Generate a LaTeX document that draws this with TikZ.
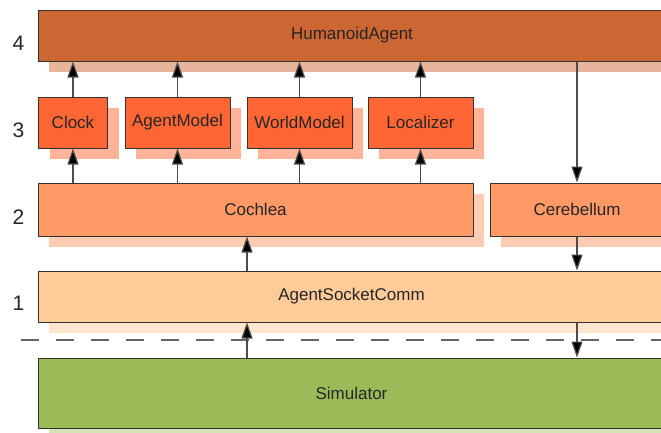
\documentclass[tikz,border=0pt]{standalone}
\usepackage{fontspec}
\setmainfont{Liberation Sans}
\usetikzlibrary{arrows.meta,shadows}

\definecolor{agentfill}{HTML}{CC6633}
\definecolor{agentshade}{HTML}{E8B49C}
\definecolor{partfill}{HTML}{FF6633}
\definecolor{partshade}{HTML}{FFB399}
\definecolor{senfill}{HTML}{FF9966}
\definecolor{senshade}{HTML}{FFCCB3}
\definecolor{commfill}{HTML}{FFCC99}
\definecolor{commshade}{HTML}{FFE6CC}
\definecolor{simfill}{HTML}{9BBB59}
\definecolor{simshade}{HTML}{D3E2B7}
\definecolor{edge}{HTML}{333333}

\begin{document}
\begin{tikzpicture}[x=1pt,y=-1pt,
    box/.style={draw=edge, line width=1pt, inner sep=0pt, minimum height=51pt,
        text=black!85, font=\fontsize{17}{20}\selectfont},
    shade/.style={general shadow={fill=#1, shadow xshift=11pt, shadow yshift=-11pt}},
    link/.style={draw=black!70, line width=1.2pt, -{Triangle[length=16pt,width=11pt,fill=black]}},
    cut/.style={draw=black!60, line width=2pt, dash pattern=on 18pt off 17pt},
    level/.style={font=\fontsize{21}{24}\selectfont, text=black!85}]
\useasboundingbox (0,0) rectangle (661,432);
\clip (0,0) rectangle (661,432);

\foreach \l/\y in {4/43, 3/130, 2/217, 1/303} \node (lv\l) at (18.5,\y) [level] {\l};

\node (agent) at (352,35.5) [box, minimum width=628pt, fill=agentfill, shade=agentshade] {HumanoidAgent};
\node (cochlea) at (255.5,209.5) [box, minimum width=435pt, minimum height=53pt, fill=senfill, shade=senshade] {Cochlea};
\node (cerebellum) at (577,209.5) [box, minimum width=174pt, minimum height=53pt, fill=senfill, shade=senshade] {Cerebellum};
\node (socket) at (351.5,296.5) [box, minimum width=627pt, fill=commfill, shade=commshade] {AgentSocketComm};
\node (sim) at (351.5,393) [box, minimum width=627pt, minimum height=70pt, fill=simfill, shade=simshade] {Simulator};

\coordinate (cutL) at (20.7,340);
\coordinate (cutR) at (670,340);
\draw[cut] (cutL) -- (cutR);

\foreach \n/\x/\w/\t in {clock/73/69/Clock, model/177.5/105/AgentModel, world/299.5/105/WorldModel, loc/420.5/105/Localizer} {
    \node (\n) at (\x,122.5) [box, minimum width=\w pt, fill=partfill, shade=partshade] {\t};
    \draw[link] (\n) -- (\n |- agent.south);
    \draw[link] (\n |- cochlea.north) -- (\n);
}

\coordinate (inlet) at (247,340);
\draw[link] (inlet |- socket.north) -- (inlet |- cochlea.south);
\draw[link] (inlet |- sim.north) -- (inlet |- socket.south);

\draw[link] (cerebellum |- agent.south) -- (cerebellum);
\draw[link] (cerebellum) -- (cerebellum |- socket.north);
\draw[link] (cerebellum |- socket.south) -- (cerebellum |- sim.north);
\end{tikzpicture}
\end{document}
